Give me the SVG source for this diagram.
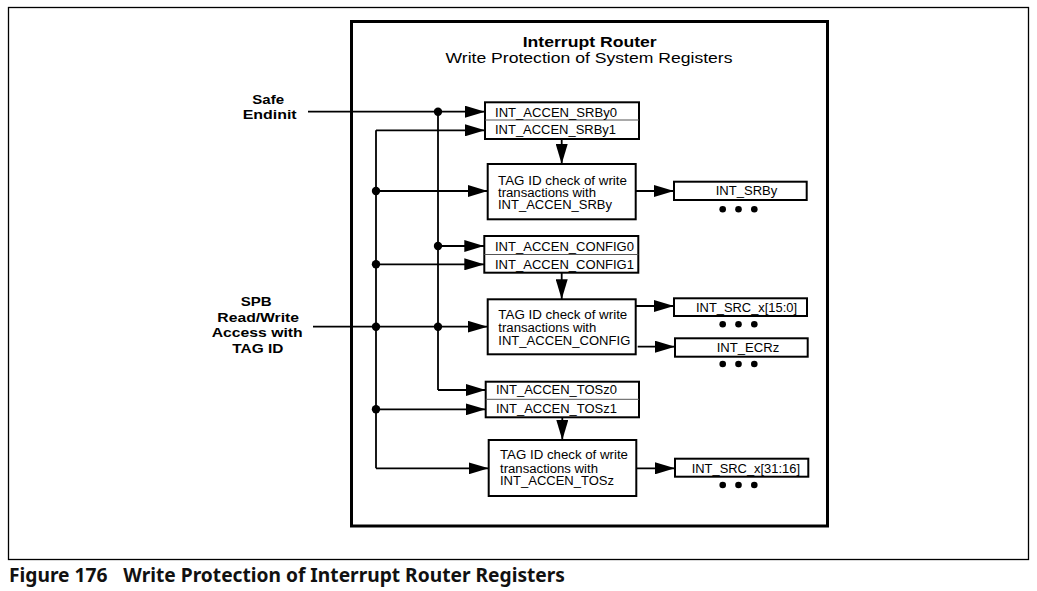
<svg xmlns="http://www.w3.org/2000/svg" width="1037" height="591" viewBox="0 0 1037 591">
<defs>
<marker id="ah" markerUnits="userSpaceOnUse" markerWidth="20" markerHeight="12" refX="20" refY="6" orient="auto">
<path d="M0,0 L20,6 L0,12 z" fill="#000"/>
</marker>
<style>
.t{font-family:"Liberation Sans",Arial,sans-serif;font-size:12.5px;fill:#000}
.b{font-family:"Liberation Sans",Arial,sans-serif;font-size:12.5px;font-weight:bold;fill:#000;text-anchor:middle}
.cap{font-family:"Noto Sans",sans-serif;font-size:20px;font-weight:bold;fill:#111}
.box{fill:#fff;stroke:#000;stroke-width:2}
.div{stroke:#555;stroke-width:1}
.ln{fill:none;stroke:#000;stroke-width:1.8}
.arr{fill:none;stroke:#000;stroke-width:1.8;marker-end:url(#ah)}
.dot{fill:#000}
</style>
</defs>
<rect x="0" y="0" width="1037" height="591" fill="#fff"/>
<rect x="8.5" y="7.5" width="1020" height="552" fill="none" stroke="#000" stroke-width="1.3"/>
<g id="router">
<rect x="351.5" y="21.5" width="476" height="504.5" fill="none" stroke="#000" stroke-width="3"/>
<text x="589.7" y="47.3" text-anchor="middle" font-family="Liberation Sans, Arial, sans-serif" font-size="15.5" font-weight="bold" textLength="134" lengthAdjust="spacingAndGlyphs">Interrupt Router</text>
<text x="589" y="63.3" text-anchor="middle" font-family="Liberation Sans, Arial, sans-serif" font-size="15" textLength="287" lengthAdjust="spacingAndGlyphs">Write Protection of System Registers</text>
</g>
<g id="label-safe">
<text class="b" x="268.2" y="104" textLength="31.7" lengthAdjust="spacingAndGlyphs">Safe</text>
<text class="b" x="269.7" y="119.3" textLength="54" lengthAdjust="spacingAndGlyphs">Endinit</text>
</g>
<g id="label-spb">
<text class="b" x="256.2" y="306" textLength="31" lengthAdjust="spacingAndGlyphs">SPB</text>
<text class="b" x="258.2" y="321.7" textLength="81.7" lengthAdjust="spacingAndGlyphs">Read/Write</text>
<text class="b" x="257.2" y="336.9" textLength="91" lengthAdjust="spacingAndGlyphs">Access with</text>
<text class="b" x="257.8" y="352.5" textLength="51" lengthAdjust="spacingAndGlyphs">TAG ID</text>
</g>
<g id="connectors">
<path class="arr" d="M308,111.7 H485"/>
<path class="ln" d="M438,111.7 V390"/>
<path class="arr" d="M438,390 H485.7"/>
<path class="arr" d="M376,130.3 H485"/>
<path class="ln" d="M376,130.3 V468.3"/>
<path class="arr" d="M376,468.3 H488.7"/>
<path class="arr" d="M376,191 H487.7"/>
<path class="arr" d="M438,246 H484.3"/>
<path class="arr" d="M376,264.3 H484.3"/>
<path class="arr" d="M313,326.7 H487.7"/>
<path class="arr" d="M376,409.3 H485.7"/>
<path class="arr" d="M561.7,139 V164"/>
<path class="arr" d="M561.7,272.7 V299.3"/>
<path class="arr" d="M562.3,417.3 V440"/>
<path class="arr" d="M635.7,191 H674"/>
<path class="arr" d="M635.7,306 H674"/>
<path class="arr" d="M637.7,346.7 H675"/>
<path class="arr" d="M636.3,468.3 H675"/>
<circle class="dot" cx="438" cy="111.7" r="4.2"/>
<circle class="dot" cx="376" cy="191" r="4.2"/>
<circle class="dot" cx="438" cy="246" r="4.2"/>
<circle class="dot" cx="376" cy="264.3" r="4.2"/>
<circle class="dot" cx="376" cy="326.7" r="4.2"/>
<circle class="dot" cx="438" cy="326.7" r="4.2"/>
<circle class="dot" cx="376" cy="409.3" r="4.2"/>
</g>
<g id="accen-srby">
<rect class="box" x="485" y="102.3" width="154" height="36.7"/>
<line class="div" x1="485" y1="120" x2="639" y2="120"/>
<text class="t" x="495" y="116.5" textLength="122" lengthAdjust="spacingAndGlyphs">INT_ACCEN_SRBy0</text>
<text class="t" x="495" y="134.2" textLength="121" lengthAdjust="spacingAndGlyphs">INT_ACCEN_SRBy1</text>
</g>
<g id="check-srby">
<rect class="box" x="487.7" y="164" width="148" height="55.3"/>
<text class="t" x="498" y="184.5" textLength="129" lengthAdjust="spacingAndGlyphs">TAG ID check of write</text>
<text class="t" x="498" y="197" textLength="98" lengthAdjust="spacingAndGlyphs">transactions with</text>
<text class="t" x="498" y="209.3" textLength="114" lengthAdjust="spacingAndGlyphs">INT_ACCEN_SRBy</text>
</g>
<g id="int-srby">
<rect class="box" x="674" y="181.7" width="132.7" height="18.3"/>
<text class="t" x="715.7" y="195" textLength="61.6" lengthAdjust="spacingAndGlyphs">INT_SRBy</text>
<circle class="dot" cx="722.7" cy="209.3" r="3.3"/>
<circle class="dot" cx="738.5" cy="209.3" r="3.3"/>
<circle class="dot" cx="754.3" cy="209.3" r="3.3"/>
</g>
<g id="accen-config">
<rect class="box" x="484.3" y="236" width="154" height="36.7"/>
<line class="div" x1="484.3" y1="254.5" x2="638.3" y2="254.5"/>
<text class="t" x="495" y="250.7" textLength="139" lengthAdjust="spacingAndGlyphs">INT_ACCEN_CONFIG0</text>
<text class="t" x="495" y="269" textLength="139" lengthAdjust="spacingAndGlyphs">INT_ACCEN_CONFIG1</text>
</g>
<g id="check-config">
<rect class="box" x="487.7" y="299.3" width="148" height="55"/>
<text class="t" x="498.3" y="319.3" textLength="129" lengthAdjust="spacingAndGlyphs">TAG ID check of write</text>
<text class="t" x="498.3" y="332.3" textLength="98" lengthAdjust="spacingAndGlyphs">transactions with</text>
<text class="t" x="498.3" y="345" textLength="132" lengthAdjust="spacingAndGlyphs">INT_ACCEN_CONFIG</text>
</g>
<g id="int-src-lo">
<rect class="box" x="674" y="298.3" width="133" height="17.7"/>
<text class="t" x="696" y="311.7" textLength="101" lengthAdjust="spacingAndGlyphs">INT_SRC_x[15:0]</text>
<circle class="dot" cx="722.7" cy="324.3" r="3.3"/>
<circle class="dot" cx="738.5" cy="324.3" r="3.3"/>
<circle class="dot" cx="754.3" cy="324.3" r="3.3"/>
</g>
<g id="int-ecrz">
<rect class="box" x="675" y="338.3" width="132.7" height="18.4"/>
<text class="t" x="716.7" y="352" textLength="62.6" lengthAdjust="spacingAndGlyphs">INT_ECRz</text>
<circle class="dot" cx="722.7" cy="364" r="3.3"/>
<circle class="dot" cx="738.5" cy="364" r="3.3"/>
<circle class="dot" cx="754.3" cy="364" r="3.3"/>
</g>
<g id="accen-tosz">
<rect class="box" x="485.7" y="381.7" width="153.3" height="35.6"/>
<line class="div" x1="485.7" y1="399.3" x2="639" y2="399.3"/>
<text class="t" x="496" y="394.2" textLength="121" lengthAdjust="spacingAndGlyphs">INT_ACCEN_TOSz0</text>
<text class="t" x="496" y="413.3" textLength="121" lengthAdjust="spacingAndGlyphs">INT_ACCEN_TOSz1</text>
</g>
<g id="check-tosz">
<rect class="box" x="488.7" y="440" width="147.6" height="56"/>
<text class="t" x="500" y="459.3" textLength="128" lengthAdjust="spacingAndGlyphs">TAG ID check of write</text>
<text class="t" x="500" y="472.7" textLength="98" lengthAdjust="spacingAndGlyphs">transactions with</text>
<text class="t" x="500" y="485" textLength="114" lengthAdjust="spacingAndGlyphs">INT_ACCEN_TOSz</text>
</g>
<g id="int-src-hi">
<rect class="box" x="675" y="458.7" width="133.3" height="18"/>
<text class="t" x="691.7" y="473.3" textLength="108.3" lengthAdjust="spacingAndGlyphs">INT_SRC_x[31:16]</text>
<circle class="dot" cx="722.7" cy="485" r="3.3"/>
<circle class="dot" cx="738.5" cy="485" r="3.3"/>
<circle class="dot" cx="754.3" cy="485" r="3.3"/>
</g>
<g id="caption">
<text class="cap" x="9" y="581.7" textLength="98.5" lengthAdjust="spacingAndGlyphs">Figure 176</text>
<text class="cap" x="123.3" y="581.7" textLength="441.7" lengthAdjust="spacingAndGlyphs">Write Protection of Interrupt Router Registers</text>
</g>
</svg>
